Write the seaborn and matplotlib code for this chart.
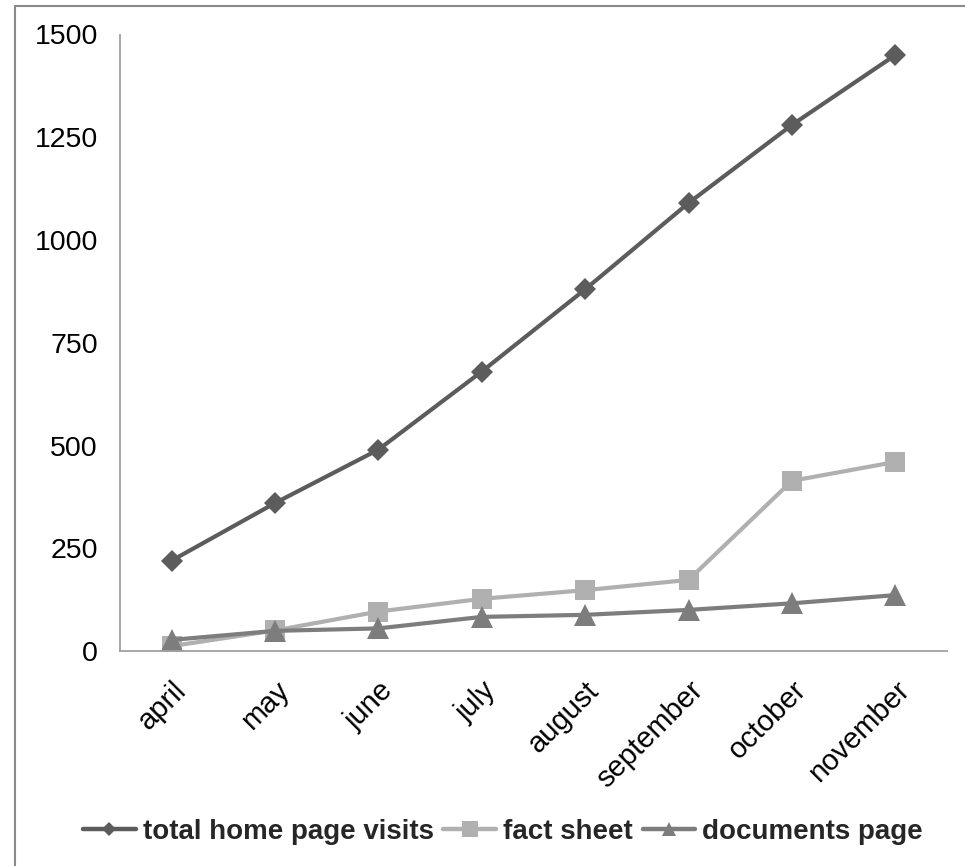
import matplotlib
matplotlib.use("Agg")
import matplotlib.pyplot as plt
import matplotlib.lines as mlines
import seaborn as sns
import pandas as pd

months = ["april", "may", "june", "july", "august", "september", "october", "november"]
total_home_page_visits = [220, 360, 490, 680, 880, 1090, 1280, 1450]
fact_sheet = [12, 50, 96, 127, 148, 173, 414, 460]
documents_page = [27, 49, 55, 83, 88, 100, 116, 136]
y_ticks = [0, 250, 500, 750, 1000, 1250, 1500]

series_names = ["total home page visits", "fact sheet", "documents page"]
series_values = [total_home_page_visits, fact_sheet, documents_page]

df = pd.DataFrame({
    "pos": list(range(len(months))) * len(series_names),
    "visits": [v for vals in series_values for v in vals],
    "series": [name for name in series_names for _ in months],
})

sns.set_theme(style="white")
plt.rcParams["font.family"] = ["Liberation Sans", "DejaVu Sans"]

fig = plt.figure(figsize=(9.65, 8.66), dpi=100)
ax = fig.add_axes([120 / 965, 1 - 651 / 866, (947 - 120) / 965, (651 - 34.5) / 866])

styles = {
    "total home page visits": dict(color="#5c5c5c", marker="D", ms=11.5, lms=7),
    "fact sheet": dict(color="#b0b0b0", marker="s", ms=15, lms=11),
    "documents page": dict(color="#7d7d7d", marker="^", ms=16, lms=10),
}

for name in series_names:
    st = styles[name]
    sns.lineplot(data=df[df["series"] == name], x="pos", y="visits", ax=ax,
                 color=st["color"], linewidth=3, marker=st["marker"],
                 markersize=st["ms"], markeredgewidth=0, legend=False)

ax.set_xlim(-0.5, len(months) - 0.5)
ax.set_ylim(0, 1500)
ax.set_yticks(y_ticks)
ax.set_yticklabels([str(t) for t in y_ticks], fontsize=20.5)
ax.set_xticks(range(len(months)))
ax.set_xticklabels(months, fontsize=21, rotation=45, ha="right", va="top",
                   rotation_mode="anchor")
ax.tick_params(axis="both", length=0, colors="black")
ax.tick_params(axis="y", pad=16)
ax.tick_params(axis="x", pad=18)
ax.set_xlabel("")
ax.set_ylabel("")

for side in ["top", "right"]:
    ax.spines[side].set_visible(False)
for side in ["left", "bottom"]:
    ax.spines[side].set_color("#a0a0a0")
    ax.spines[side].set_linewidth(1.3)

# legend handles: line with a smaller marker
handles = []
for name in series_names:
    st = styles[name]
    handles.append(mlines.Line2D([], [], color=st["color"], linewidth=3.2,
                                 marker=st["marker"], markersize=st["lms"],
                                 markeredgewidth=0, label=name))
fig.legend(handles=handles, loc="center", bbox_to_anchor=(503 / 965, 1 - 832 / 866),
           ncol=3, frameon=False, handlelength=1.9, handletextpad=0.25,
           columnspacing=0.35,
           prop={"family": ["Liberation Sans", "DejaVu Sans"],
                 "weight": "bold", "size": 20})

# outer frame on the top and left edges
fig.add_artist(mlines.Line2D([15 / 965, 15 / 965], [1 - 6 / 866, 0],
                             transform=fig.transFigure, color="#8a8a8a", linewidth=1.5))
fig.add_artist(mlines.Line2D([15 / 965, 1], [1 - 6 / 866, 1 - 6 / 866],
                             transform=fig.transFigure, color="#8a8a8a", linewidth=1.5))

fig.savefig("out.png", dpi=100)
